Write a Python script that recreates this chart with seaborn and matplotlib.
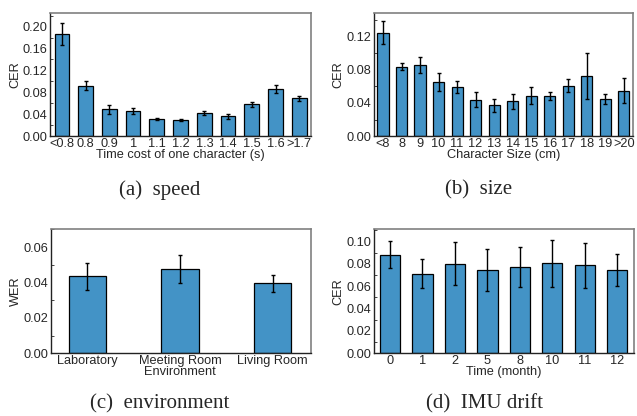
import seaborn as sns
import matplotlib.pyplot as plt
import pandas as pd
import numpy as np

# speed
speed_labels = ['<0.8', '0.8', '0.9', '1', '1.1', '1.2', '1.3', '1.4', '1.5', '1.6', '>1.7']
speed_cer = [0.187, 0.092, 0.049, 0.046, 0.031, 0.030, 0.042, 0.036, 0.058, 0.086, 0.069]
speed_err = [0.020, 0.008, 0.008, 0.005, 0.002, 0.002, 0.003, 0.004, 0.005, 0.007, 0.005]

# size
size_labels = ['<8', '8', '9', '10', '11', '12', '13', '14', '15', '16', '17', '18', '19', '>20']
size_cer = [0.125, 0.084, 0.086, 0.065, 0.059, 0.044, 0.037, 0.042, 0.049, 0.048, 0.061, 0.073, 0.045, 0.055]
size_err = [0.014, 0.004, 0.010, 0.011, 0.007, 0.009, 0.008, 0.009, 0.010, 0.005, 0.008, 0.028, 0.006, 0.015]

# environment
env_labels = ['Laboratory', 'Meeting Room', 'Living Room']
env_wer = [0.0435, 0.0475, 0.0395]
env_err = [0.0075, 0.0078, 0.0047]

# IMU drift
drift_labels = ['0', '1', '2', '5', '8', '10', '11', '12']
drift_cer = [0.088, 0.071, 0.080, 0.0745, 0.077, 0.0805, 0.0785, 0.0745]
drift_err = [0.012, 0.013, 0.019, 0.019, 0.018, 0.021, 0.020, 0.014]

sns.set_style("white")
plt.rcParams['font.family'] = ['Liberation Sans', 'DejaVu Sans']
plt.rcParams['font.size'] = 9

bar_color = '#4393c6'
fs = 9.2

fig = plt.figure(figsize=(6.37, 4.16), dpi=100)


def panel(rect, labels, vals, errs, width, ylim, yticks, ylabel, xlabel, caption, cap_xy):
    ax = fig.add_axes(rect)
    df = pd.DataFrame({'x': labels, 'y': vals})
    sns.barplot(data=df, x='x', y='y', color=bar_color, width=width,
                edgecolor='black', linewidth=0.9, saturation=1, ax=ax)
    ax.errorbar(np.arange(len(labels)), vals, yerr=errs, fmt='none',
                ecolor='black', elinewidth=1.0, capsize=1.5, capthick=1.0)
    ax.set_xlim(-0.5, len(labels) - 0.5)
    ax.set_ylim(*ylim)
    ax.set_yticks(yticks)
    ax.set_yticks(np.arange(0, ylim[1], (yticks[1] - yticks[0]) / 2), minor=True)
    ax.set_yticklabels([f'{t:.2f}' for t in yticks])
    ax.tick_params(axis='y', which='major', direction='in', length=3, width=0.8, pad=2, labelsize=fs)
    ax.tick_params(axis='y', which='minor', direction='in', length=1.8, width=0.6, left=True)
    ax.tick_params(axis='x', length=0, pad=1.5, labelsize=fs)
    ax.set_ylabel(ylabel, fontsize=fs, labelpad=1)
    ax.set_xlabel(xlabel, fontsize=fs, labelpad=-1)
    for side in ['top', 'right']:
        ax.spines[side].set_color('#808080')
        ax.spines[side].set_linewidth(1.2)
    for side in ['left', 'bottom']:
        ax.spines[side].set_color('#222222')
        ax.spines[side].set_linewidth(1.0)
    fig.text(cap_xy[0], cap_xy[1], caption, ha='center', va='center',
             fontsize=15, family='Liberation Serif')
    return ax


panel([0.0785, 0.673, 0.410, 0.296], speed_labels, speed_cer, speed_err, 0.62,
      (0, 0.225), [0.0, 0.04, 0.08, 0.12, 0.16, 0.20], 'CER',
      'Time cost of one character (s)', '(a)  speed', (0.251, 0.543))

panel([0.5867, 0.673, 0.407, 0.296], size_labels, size_cer, size_err, 0.6,
      (0, 0.149), [0.0, 0.04, 0.08, 0.12], 'CER',
      'Character Size (cm)', '(b)  size', (0.751, 0.543))

ax_c = panel([0.080, 0.1507, 0.408, 0.298], env_labels, env_wer, env_err, 0.4,
             (0, 0.07), [0.0, 0.02, 0.04, 0.06], 'WER',
             'Environment', '(c)  environment', (0.251, 0.030))
ax_c.set_xlim(-0.39, 2.41)
ax_c.xaxis.set_label_coords(0.496, -0.105)

panel([0.5867, 0.1507, 0.408, 0.298], drift_labels, drift_cer, drift_err, 0.62,
      (0, 0.1107), [0.0, 0.02, 0.04, 0.06, 0.08, 0.10], 'CER',
      'Time (month)', '(d)  IMU drift', (0.761, 0.030))

fig.savefig('out.png', dpi=100)
